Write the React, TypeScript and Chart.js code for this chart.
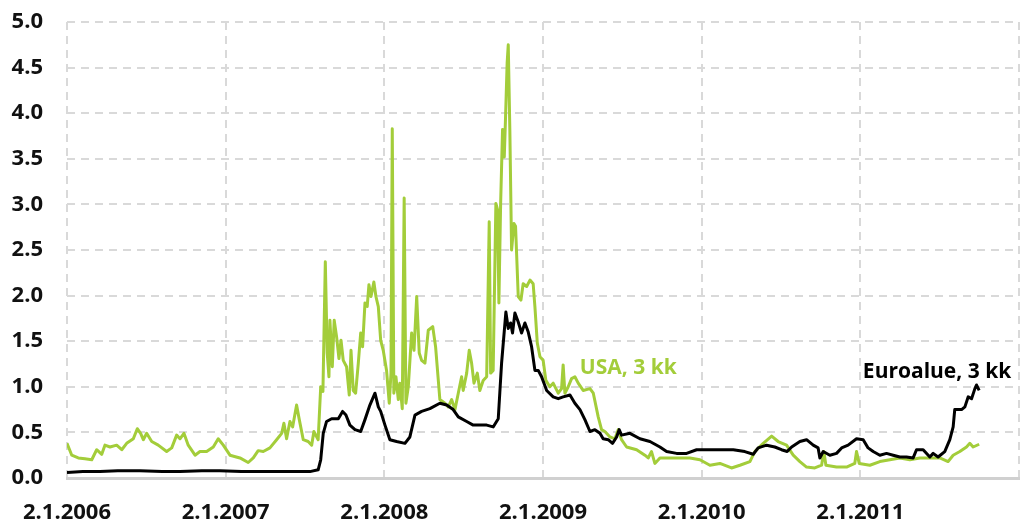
import React, { useEffect, useRef } from "react";
import { Chart, registerables } from "chart.js";

Chart.register(...registerables);

const GREEN = "#a3cd3a";
const BLACK = "#000000";

// USA, 3 kk  (x = decimal year, y = %)
const usaX = [
  2006.0, 2006.03, 2006.071, 2006.113, 2006.156, 2006.187, 2006.219, 2006.239, 2006.271, 2006.313,
  2006.345, 2006.376, 2006.418, 2006.443, 2006.464, 2006.481, 2006.502, 2006.534, 2006.575, 2006.628,
  2006.66, 2006.691, 2006.712, 2006.737, 2006.764, 2006.807, 2006.838, 2006.88, 2006.922, 2006.953,
  2006.985, 2007.027, 2007.09, 2007.142, 2007.174, 2007.205, 2007.237, 2007.279, 2007.321, 2007.353,
  2007.367, 2007.384, 2007.405, 2007.422, 2007.447, 2007.464, 2007.489, 2007.52, 2007.542, 2007.556,
  2007.583, 2007.599, 2007.613, 2007.628, 2007.64, 2007.651, 2007.657, 2007.672, 2007.684, 2007.699,
  2007.714, 2007.727, 2007.741, 2007.762, 2007.779, 2007.79, 2007.804, 2007.819, 2007.836, 2007.851,
  2007.863, 2007.878, 2007.892, 2007.903, 2007.916, 2007.934, 2007.947, 2007.962, 2007.977, 2007.993,
  2008.014, 2008.031, 2008.042, 2008.05, 2008.06, 2008.073, 2008.088, 2008.098, 2008.113, 2008.125,
  2008.136, 2008.151, 2008.172, 2008.187, 2008.204, 2008.22, 2008.235, 2008.256, 2008.277, 2008.305,
  2008.323, 2008.35, 2008.382, 2008.403, 2008.424, 2008.445, 2008.466, 2008.487, 2008.497, 2008.519,
  2008.535, 2008.55, 2008.565, 2008.586, 2008.602, 2008.623, 2008.645, 2008.661, 2008.67, 2008.686,
  2008.703, 2008.714, 2008.722, 2008.733, 2008.745, 2008.756, 2008.764, 2008.774, 2008.781, 2008.791,
  2008.802, 2008.817, 2008.827, 2008.844, 2008.861, 2008.875, 2008.897, 2008.918, 2008.938, 2008.949,
  2008.964, 2008.981, 2009.001, 2009.018, 2009.043, 2009.064, 2009.096, 2009.117, 2009.127, 2009.138,
  2009.159, 2009.18, 2009.201, 2009.222, 2009.253, 2009.296, 2009.317, 2009.348, 2009.369, 2009.39,
  2009.422, 2009.453, 2009.474, 2009.495, 2009.527, 2009.59, 2009.642, 2009.663, 2009.684, 2009.705,
  2009.737, 2009.8, 2009.863, 2009.926, 2009.989, 2010.052, 2010.115, 2010.188, 2010.241, 2010.304,
  2010.335, 2010.388, 2010.441, 2010.482, 2010.535, 2010.577, 2010.619, 2010.661, 2010.713, 2010.756,
  2010.77, 2010.783, 2010.85, 2010.913, 2010.965, 2010.976, 2010.993, 2011.06, 2011.123, 2011.186,
  2011.249, 2011.312, 2011.375, 2011.438, 2011.501, 2011.553, 2011.585, 2011.627, 2011.669, 2011.69,
  2011.711, 2011.749,
];
const usaY = [
  0.38, 0.25, 0.22, 0.21, 0.2, 0.31, 0.26, 0.36, 0.34, 0.36,
  0.31, 0.38, 0.43, 0.54, 0.49, 0.42, 0.49, 0.4, 0.36, 0.29,
  0.33, 0.47, 0.43, 0.49, 0.36, 0.25, 0.29, 0.29, 0.34, 0.43,
  0.36, 0.25, 0.22, 0.17, 0.22, 0.3, 0.29, 0.33, 0.42, 0.49,
  0.6, 0.43, 0.62, 0.56, 0.8, 0.64, 0.42, 0.4, 0.36, 0.51,
  0.42, 1.0, 0.95, 2.37, 1.37, 1.11, 1.73, 1.22, 1.73, 1.55,
  1.31, 1.51, 1.29, 1.22, 0.91, 1.4, 0.96, 0.93, 1.26, 1.59,
  1.44, 1.92, 1.88, 2.12, 1.99, 2.15, 1.99, 1.88, 1.51, 1.4,
  1.18, 0.82, 1.15, 3.83, 0.93, 1.11, 0.86, 1.04, 0.76, 3.07,
  0.82, 1.0, 1.59, 1.4, 1.99, 1.37, 1.29, 1.26, 1.62, 1.66,
  1.44, 0.86, 0.82, 0.78, 0.86, 0.75, 0.93, 1.11, 0.96, 1.15,
  1.4, 1.26, 1.04, 1.15, 0.96, 1.07, 1.11, 2.81, 1.15, 1.18,
  3.01, 2.94, 1.92, 3.01, 3.82, 3.52, 3.96, 4.55, 4.75, 3.82,
  2.5, 2.79, 2.76, 1.99, 1.95, 2.13, 2.1, 2.17, 2.13, 1.88,
  1.48, 1.33, 1.29, 1.07, 1.0, 1.04, 0.93, 0.98, 1.24, 0.93,
  1.0, 1.09, 1.11, 1.04, 0.96, 0.98, 0.93, 0.67, 0.53, 0.51,
  0.45, 0.43, 0.53, 0.42, 0.34, 0.31, 0.25, 0.22, 0.29, 0.16,
  0.22, 0.22, 0.22, 0.22, 0.2, 0.14, 0.16, 0.11, 0.14, 0.18,
  0.29, 0.38, 0.46, 0.4, 0.36, 0.25, 0.18, 0.12, 0.11, 0.14,
  0.29, 0.14, 0.12, 0.12, 0.16, 0.29, 0.16, 0.14, 0.18, 0.2,
  0.22, 0.2, 0.22, 0.22, 0.22, 0.18, 0.25, 0.29, 0.34, 0.38,
  0.34, 0.37,
];

// Euroalue, 3 kk
const euroX = [
  2006.0, 2006.1, 2006.208, 2006.32, 2006.46, 2006.6, 2006.712, 2006.85, 2006.964, 2007.1,
  2007.216, 2007.405, 2007.531, 2007.583, 2007.599, 2007.615, 2007.636, 2007.668, 2007.71, 2007.737,
  2007.758, 2007.783, 2007.815, 2007.851, 2007.878, 2007.909, 2007.941, 2007.962, 2007.977, 2008.004,
  2008.035, 2008.077, 2008.13, 2008.161, 2008.193, 2008.235, 2008.287, 2008.35, 2008.393, 2008.434,
  2008.466, 2008.519, 2008.56, 2008.602, 2008.645, 2008.686, 2008.718, 2008.739, 2008.766, 2008.781,
  2008.796, 2008.808, 2008.823, 2008.844, 2008.865, 2008.886, 2008.907, 2008.928, 2008.949, 2008.97,
  2008.991, 2009.023, 2009.064, 2009.096, 2009.127, 2009.17, 2009.201, 2009.233, 2009.264, 2009.296,
  2009.327, 2009.359, 2009.379, 2009.411, 2009.438, 2009.464, 2009.48, 2009.495, 2009.548, 2009.611,
  2009.674, 2009.737, 2009.779, 2009.842, 2009.905, 2009.968, 2010.052, 2010.136, 2010.199, 2010.272,
  2010.325, 2010.356, 2010.409, 2010.461, 2010.503, 2010.539, 2010.567, 2010.619, 2010.661, 2010.703,
  2010.734, 2010.745, 2010.766, 2010.808, 2010.85, 2010.882, 2010.923, 2010.976, 2011.018, 2011.049,
  2011.081, 2011.123, 2011.165, 2011.207, 2011.249, 2011.291, 2011.333, 2011.354, 2011.396, 2011.438,
  2011.459, 2011.49, 2011.532, 2011.564, 2011.585, 2011.595, 2011.638, 2011.659, 2011.68, 2011.701,
  2011.722, 2011.732, 2011.749,
];
const euroY = [
  0.06, 0.07, 0.07, 0.08, 0.08, 0.07, 0.07, 0.08, 0.08, 0.07,
  0.07, 0.07, 0.07, 0.09, 0.2, 0.49, 0.62, 0.65, 0.65, 0.73,
  0.69, 0.58, 0.53, 0.51, 0.64, 0.8, 0.93, 0.78, 0.73, 0.58,
  0.42, 0.4, 0.38, 0.45, 0.69, 0.73, 0.76, 0.82, 0.8, 0.75,
  0.67, 0.62, 0.58, 0.58, 0.58, 0.56, 0.65, 1.26, 1.82, 1.64,
  1.7, 1.59, 1.81, 1.71, 1.59, 1.7, 1.6, 1.44, 1.18, 1.18,
  1.11, 0.96, 0.89, 0.87, 0.89, 0.91, 0.82, 0.75, 0.64, 0.51,
  0.53, 0.49, 0.43, 0.42, 0.38, 0.45, 0.53, 0.47, 0.49, 0.43,
  0.4, 0.34, 0.29, 0.27, 0.27, 0.31, 0.31, 0.31, 0.31, 0.29,
  0.26, 0.33, 0.36, 0.34, 0.31, 0.29, 0.34, 0.4, 0.42, 0.36,
  0.33, 0.22, 0.29, 0.25, 0.27, 0.33, 0.36, 0.43, 0.42, 0.33,
  0.29, 0.25, 0.27, 0.25, 0.23, 0.23, 0.22, 0.31, 0.31, 0.23,
  0.27, 0.23, 0.29, 0.42, 0.56, 0.75, 0.75, 0.78, 0.89, 0.87,
  0.98, 1.02, 0.96,
];

const xTickValues = [2006, 2007, 2008, 2009, 2010, 2011, 2012];
const xTickLabels = ["2.1.2006", "2.1.2007", "2.1.2008", "2.1.2009", "2.1.2010", "2.1.2011", ""];

const seriesLabels = [
  { text: "USA, 3 kk", x: 2009.232, y: 1.14, color: GREEN },
  { text: "Euroalue, 3 kk", x: 2011.016, y: 1.096, color: BLACK },
];

const FONT_FAMILY = '"Open Sans", "DejaVu Sans", sans-serif';

const labelPlugin = {
  id: "seriesLabels",
  afterDatasetsDraw(chart: any) {
    const { ctx, scales } = chart;
    ctx.save();
    ctx.font = `bold 21px ${FONT_FAMILY}`;
    ctx.textAlign = "left";
    ctx.textBaseline = "alphabetic";
    for (const l of seriesLabels) {
      ctx.fillStyle = l.color;
      ctx.fillText(l.text, scales.x.getPixelForValue(l.x), scales.y.getPixelForValue(l.y));
    }
    ctx.restore();
  },
};

export default function App() {
  const ref = useRef<HTMLCanvasElement | null>(null);
  useEffect(() => {
    if (!ref.current) return;
    const chart = new Chart(ref.current, {
      type: "line",
      data: {
        datasets: [
          {
            label: "Euroalue, 3 kk",
            data: euroX.map((x, i) => ({ x, y: euroY[i] })),
            borderColor: BLACK,
            borderWidth: 3,
            pointRadius: 0,
            tension: 0,
            borderJoinStyle: "round",
            fill: false,
          },
          {
            label: "USA, 3 kk",
            data: usaX.map((x, i) => ({ x, y: usaY[i] })),
            borderColor: GREEN,
            borderWidth: 3,
            pointRadius: 0,
            tension: 0,
            borderJoinStyle: "round",
            fill: false,
          },
        ],
      },
      options: {
        responsive: false,
        animation: false,
        layout: { padding: { top: 22, right: 8, left: 0, bottom: 0 } },
        plugins: { legend: { display: false }, tooltip: { enabled: false } },
        scales: {
          x: {
            type: "linear",
            min: 2006,
            max: 2012,
            afterBuildTicks: (scale: any) => {
              scale.ticks = xTickValues.map((v) => ({ value: v }));
            },
            afterFit: (scale: any) => {
              scale.height = 42;
              scale.paddingLeft = 0;
              scale.paddingRight = 0;
              scale.paddingTop = 0;
              scale.paddingBottom = 0;
            },
            grid: { color: "#d9d9d9", lineWidth: 2, drawTicks: false },
            border: { display: true, color: "#d0d0d0", width: 3, dash: [8, 6] },
            ticks: {
              autoSkip: false,
              maxRotation: 0,
              padding: 22,
              color: "#111",
              font: { family: FONT_FAMILY, size: 22, weight: "bold" },
              callback: (v: any) => {
                const i = xTickValues.indexOf(Number(v));
                return i >= 0 ? xTickLabels[i] : "";
              },
            },
          },
          y: {
            min: 0,
            max: 5,
            afterFit: (scale: any) => {
              scale.width = 67;
              scale.paddingLeft = 0;
              scale.paddingRight = 0;
              scale.paddingTop = 0;
              scale.paddingBottom = 0;
            },
            grid: { color: "#d9d9d9", lineWidth: 2, drawTicks: false },
            border: { display: false, dash: [8, 6] },
            ticks: {
              stepSize: 0.5,
              padding: 24,
              color: "#111",
              font: { family: FONT_FAMILY, size: 22, weight: "bold" },
              callback: (v: any) => Number(v).toFixed(1),
            },
          },
        },
      },
      plugins: [labelPlugin],
    });
    return () => chart.destroy();
  }, []);
  return (
    <div style={{ position: "absolute", left: 0, top: 0, width: 1027, height: 520, background: "#fff" }}>
      <canvas ref={ref} width={1027} height={520} />
    </div>
  );
}
